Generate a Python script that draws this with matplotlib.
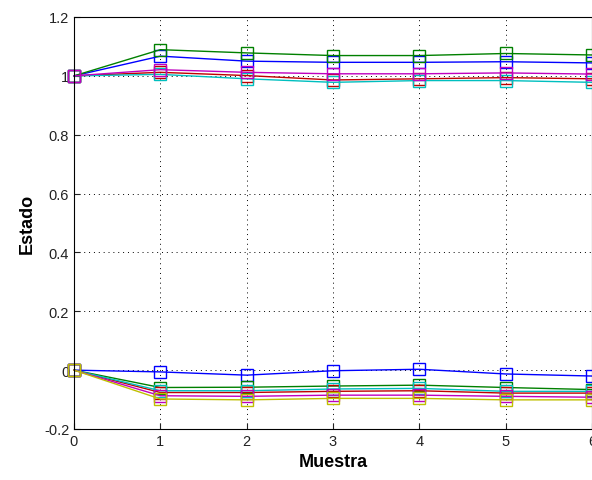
import matplotlib
matplotlib.use("Agg")
import matplotlib.pyplot as plt

muestra = [0, 1, 2, 3, 4, 5, 6]

# upper group (starting at 1)
up_blue    = [1.0, 1.067, 1.050, 1.046, 1.046, 1.048, 1.044]
up_green   = [1.0, 1.089, 1.078, 1.069, 1.069, 1.076, 1.071]
up_red     = [1.0, 1.012, 1.001, 0.986, 0.990, 0.994, 0.990]
up_cyan    = [1.0, 1.005, 0.990, 0.978, 0.984, 0.984, 0.978]
up_magenta = [1.0, 1.021, 1.012, 1.007, 1.007, 1.010, 1.006]

# lower group (starting at 0)
lo_blue    = [0.0, -0.006, -0.017, -0.002, 0.003, -0.013, -0.020]
lo_green   = [0.0, -0.059, -0.058, -0.054, -0.051, -0.059, -0.066]
lo_red     = [0.0, -0.076, -0.076, -0.072, -0.070, -0.078, -0.078]
lo_cyan    = [0.0, -0.070, -0.070, -0.064, -0.062, -0.072, -0.072]
lo_magenta = [0.0, -0.087, -0.089, -0.085, -0.085, -0.089, -0.092]
lo_yellow  = [0.0, -0.098, -0.101, -0.096, -0.096, -0.101, -0.101]

series = [
    (up_blue, "#0000ff"), (up_green, "#008000"), (up_red, "#c00000"),
    (up_cyan, "#00bfbf"), (up_magenta, "#bf00bf"),
    (lo_blue, "#0000ff"), (lo_green, "#008000"), (lo_red, "#c00000"),
    (lo_cyan, "#00bfbf"), (lo_magenta, "#bf00bf"), (lo_yellow, "#bfbf00"),
]

plt.rcParams["font.family"] = ["Liberation Sans", "DejaVu Sans"]

fig = plt.figure(figsize=(5.92, 4.81), dpi=100)
ax = fig.add_axes([74/592, 51/481, 518/592, 412/481])

for vals, col in series:
    ax.plot(muestra, vals, color=col, lw=1.0, marker="s", markersize=8,
            markerfacecolor="none", markeredgecolor=col, markeredgewidth=1.0,
            clip_on=False)

ax.set_xlim(0, 6)
ax.set_ylim(-0.2, 1.2)
ax.set_xticks(muestra)
ax.set_yticks([-0.2, 0, 0.2, 0.4, 0.6, 0.8, 1, 1.2])
ax.set_yticklabels(["-0.2", "0", "0.2", "0.4", "0.6", "0.8", "1", "1.2"])
ax.grid(True, color="black", linestyle=(0, (1, 4)), linewidth=0.7)
ax.set_axisbelow(True)
ax.tick_params(direction="in", length=4, labelsize=10.5, colors="#222222")
for s in ax.spines.values():
    s.set_linewidth(0.8)
ax.set_xlabel("Muestra", fontsize=13, fontweight="bold", labelpad=4)
ax.set_ylabel("Estado", fontsize=13, fontweight="bold", labelpad=6)

fig.savefig("out.png", dpi=100)
